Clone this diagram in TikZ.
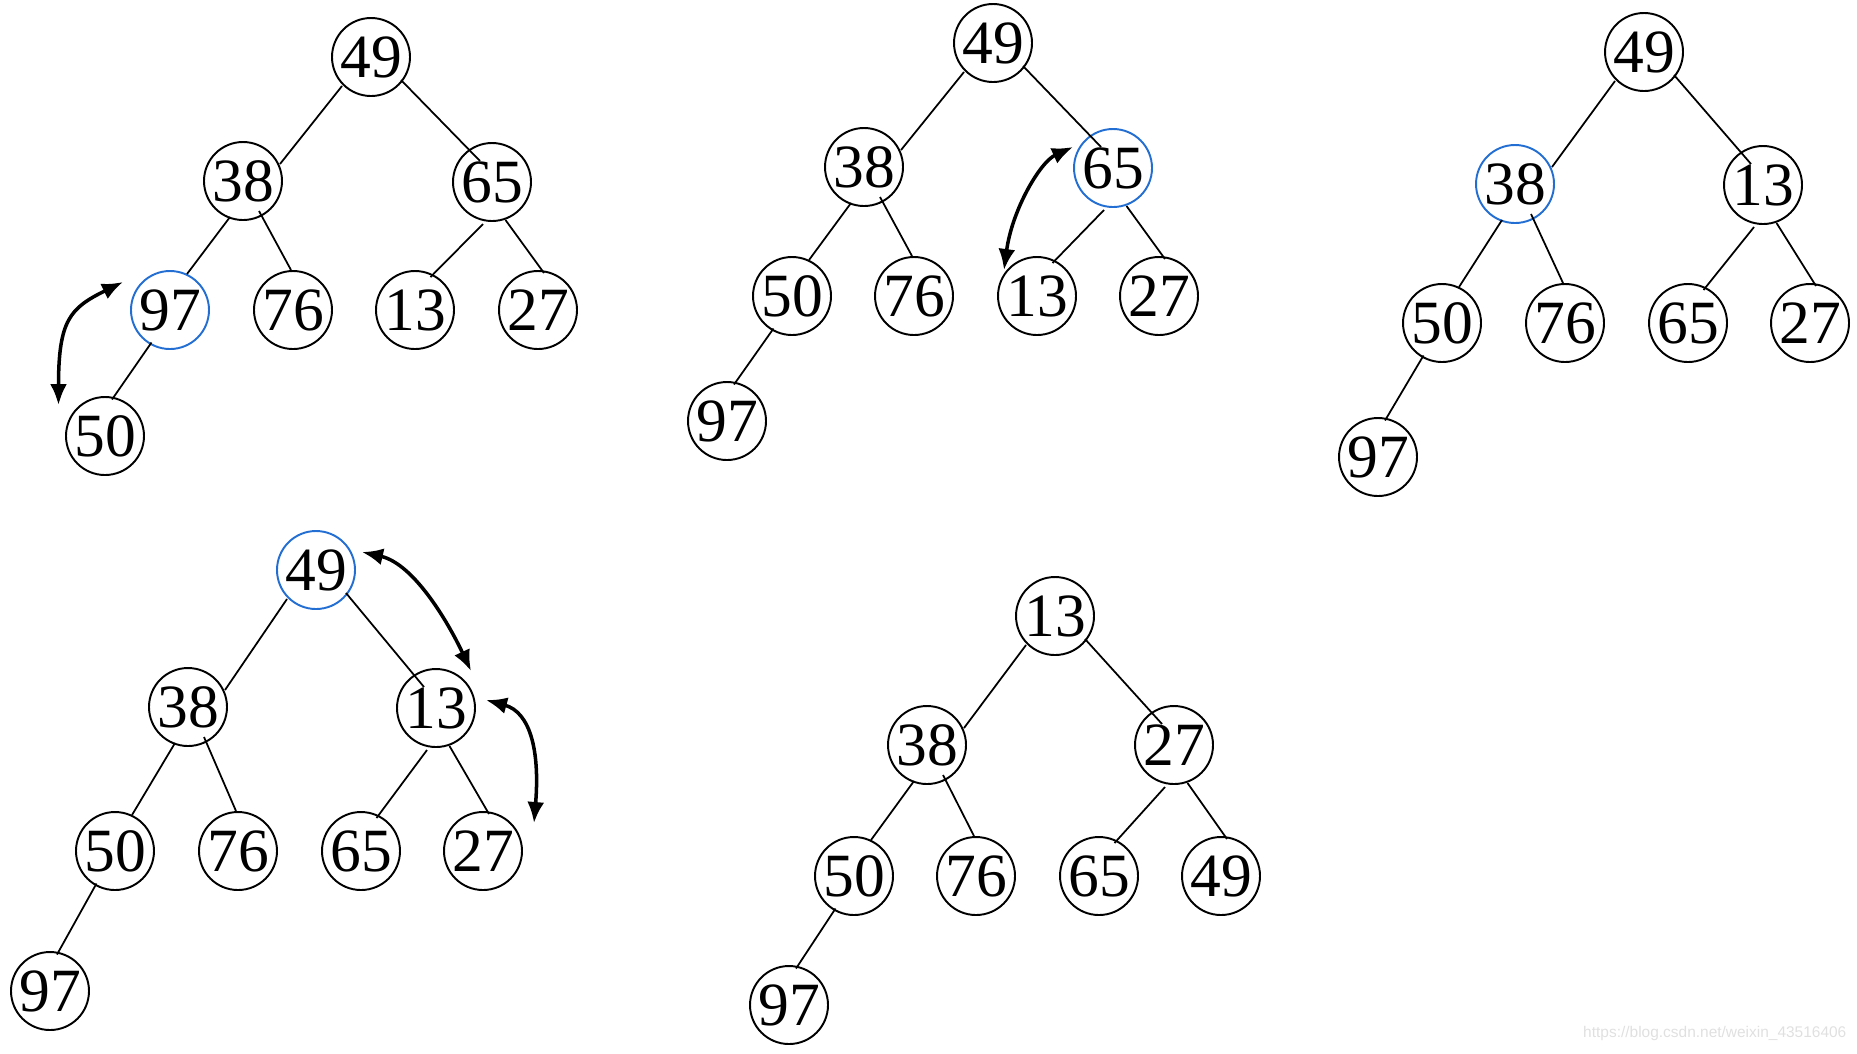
\documentclass[tikz,border=0pt]{standalone}
\usepackage{fontspec}
\setmainfont{Liberation Serif}
\newfontfamily\wmfont{Liberation Sans}
\usepackage{xcolor}
\usepackage{tikz}
\usetikzlibrary{arrows.meta}
\definecolor{curblue}{RGB}{35,110,210}

\begin{document}
\begin{tikzpicture}[>={Latex[length=2.1mm,width=1.7mm]},
    heapnode/.style={circle,draw,line width=0.55pt,minimum size=0.78cm,inner sep=0pt,
        font=\fontsize{17.5}{17.5}\selectfont},
    plain/.style={},
    cur/.style={draw=curblue},
    swap/.style={<->,line width=1pt}]
\useasboundingbox (0,0) rectangle (18.57,-10.53);

% tree 1: 97 sifted with 50
\foreach \p/\x/\y/\v/\s in {1/3.71/-0.57/49/plain,2/2.43/-1.81/38/plain,3/4.92/-1.82/65/plain,
    4/1.70/-3.10/97/cur,5/2.93/-3.10/76/plain,6/4.15/-3.10/13/plain,7/5.38/-3.10/27/plain,8/1.05/-4.36/50/plain}
    \node[heapnode,\s] (t1p\p) at (\x,\y) {\v};
% tree 2: 65 sifted with 13
\foreach \p/\x/\y/\v/\s in {1/9.93/-0.43/49/plain,2/8.64/-1.67/38/plain,3/11.13/-1.68/65/cur,
    4/7.92/-2.96/50/plain,5/9.14/-2.96/76/plain,6/10.37/-2.96/13/plain,7/11.59/-2.96/27/plain,8/7.27/-4.21/97/plain}
    \node[heapnode,\s] (t2p\p) at (\x,\y) {\v};
% tree 3: 38 stays
\foreach \p/\x/\y/\v/\s in {1/16.44/-0.52/49/plain,2/15.15/-1.84/38/cur,3/17.63/-1.85/13/plain,
    4/14.42/-3.23/50/plain,5/15.65/-3.23/76/plain,6/16.88/-3.23/65/plain,7/18.10/-3.23/27/plain,8/13.78/-4.57/97/plain}
    \node[heapnode,\s] (t3p\p) at (\x,\y) {\v};
% tree 4: 49 sifted down twice
\foreach \p/\x/\y/\v/\s in {1/3.16/-5.70/49/cur,2/1.88/-7.07/38/plain,3/4.36/-7.08/13/plain,
    4/1.15/-8.51/50/plain,5/2.38/-8.51/76/plain,6/3.61/-8.51/65/plain,7/4.83/-8.51/27/plain,8/0.50/-9.91/97/plain}
    \node[heapnode,\s] (t4p\p) at (\x,\y) {\v};
% tree 5: final heap
\foreach \p/\x/\y/\v/\s in {1/10.55/-6.16/13/plain,2/9.27/-7.45/38/plain,3/11.74/-7.45/27/plain,
    4/8.54/-8.76/50/plain,5/9.76/-8.76/76/plain,6/10.99/-8.76/65/plain,7/12.21/-8.76/49/plain,8/7.89/-10.05/97/plain}
    \node[heapnode,\s] (t5p\p) at (\x,\y) {\v};

% edges, with the ends off-centre as in the slides
\foreach \t in {1,...,5}
    \foreach \a/\b/\sx/\sy/\ex/\ey in {1/2/-0.29/-0.29/0.37/0.17, 1/3/0.30/-0.23/-0.12/0.21,
        2/4/-0.13/-0.36/0.17/0.36, 2/5/0.16/-0.30/-0.02/0.40, 3/6/-0.09/-0.42/0.155/0.33,
        3/7/0.135/-0.38/0.06/0.37, 4/8/-0.185/-0.325/0.07/0.365}
        \draw[line width=0.5pt] ([shift={(\sx,\sy)}]t\t p\a.center) -- ([shift={(\ex,\ey)}]t\t p\b.center);

% swap arrows
\coordinate (s1a) at (1.23,-2.82);  \coordinate (s1b) at (0.585,-4.05);
\coordinate (s2a) at (10.73,-1.47); \coordinate (s2b) at (10.04,-2.70);
\coordinate (s3a) at (3.62,-5.52);  \coordinate (s3b) at (4.71,-6.71);
\coordinate (s4a) at (4.86,-7.00);  \coordinate (s4b) at (5.34,-8.23);
\draw[swap] (s1a) .. controls (0.70,-3.08) and (0.585,-3.2) .. (s1b);
\draw[swap] (s2a) .. controls (10.40,-1.62) and (10.12,-2.1) .. (s2b);
\draw[swap] (s3a) .. controls (4.15,-5.64) and (4.5,-6.26) .. (s3b);
\draw[swap] (s4a) .. controls (5.30,-7.12) and (5.40,-7.5) .. (s4b);

\node[anchor=east,text=black!12,font=\wmfont\fontsize{4.4}{5}\selectfont,inner sep=0pt] (wm) at (18.47,-10.33) {https://blog.csdn.net/weixin\_43516406};
\end{tikzpicture}
\end{document}
